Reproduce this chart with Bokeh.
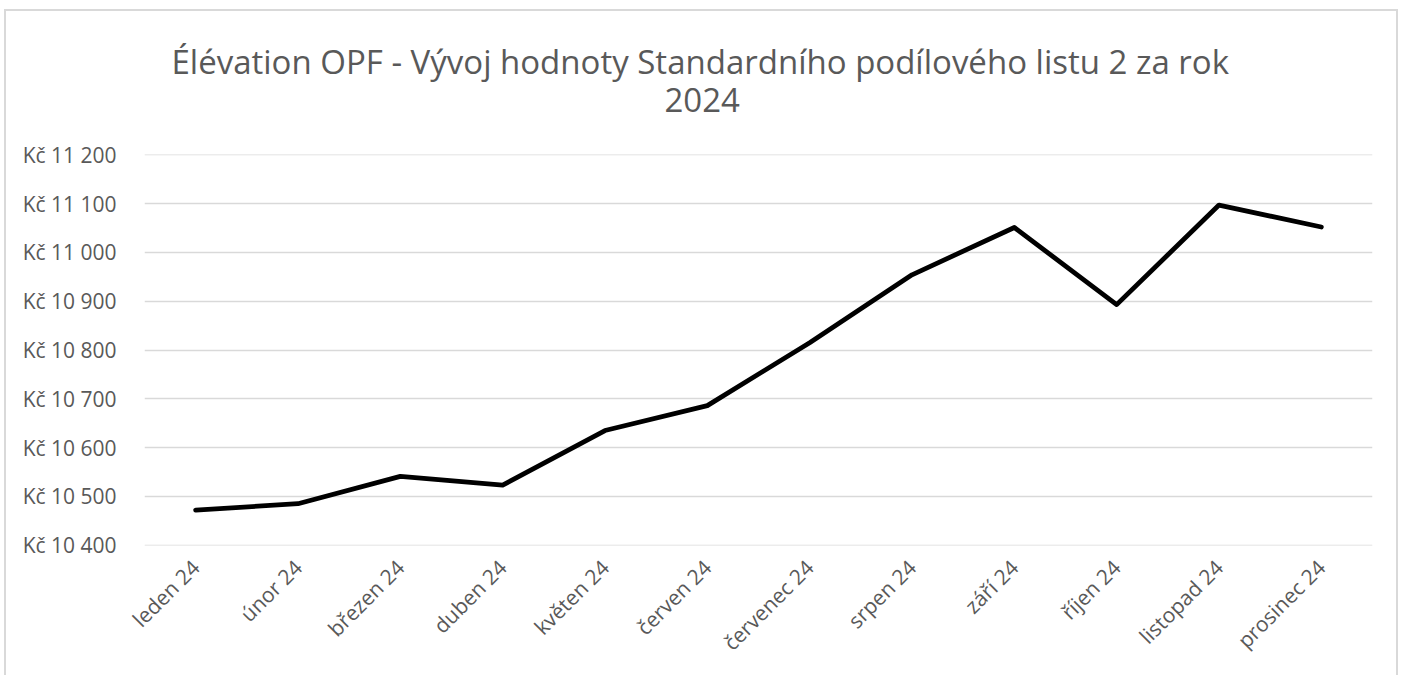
from bokeh.plotting import figure
from bokeh.models import FactorRange, Range1d, FixedTicker, Title
from bokeh.embed import file_html
from bokeh.resources import INLINE
import math

# ---- data ----
months = ["leden 24", "únor 24", "březen 24", "duben 24", "květen 24", "červen 24",
          "červenec 24", "srpen 24", "září 24", "říjen 24", "listopad 24", "prosinec 24"]
values = [10472, 10485, 10541, 10523, 10635, 10686, 10815, 10954, 11051, 10893, 11097, 11052]
y_ticks = [10400, 10500, 10600, 10700, 10800, 10900, 11000, 11100, 11200]
y_tick_labels = ["Kč 10 400", "Kč 10 500", "Kč 10 600", "Kč 10 700", "Kč 10 800",
                 "Kč 10 900", "Kč 11 000", "Kč 11 100", "Kč 11 200"]
title_line1 = "Élévation OPF - Vývoj hodnoty Standardního podílového listu 2 za rok"
title_line2 = "2024"

FONT = "Open Sans"
TXT = "#595959"
GRID = "#d9d9d9"

p = figure(x_range=FactorRange(factors=months), y_range=Range1d(10399.4, 11200.6),
           width=1394, height=667, output_backend="svg", toolbar_location=None,
           min_border_left=138, min_border_right=28, min_border_top=143, min_border_bottom=133)
p.styles = {"border": "2px solid #d9d9d9", "border-bottom": "none",
            "margin-left": "4px", "margin-top": "9px"}
p.outline_line_color = None
p.background_fill_color = "white"
p.border_fill_color = "white"

p.line(x=months, y=values, line_color="black", line_width=4.8,
       line_join="round", line_cap="round")

# y axis
p.yaxis.ticker = FixedTicker(ticks=y_ticks)
p.yaxis.major_label_overrides = {t: l for t, l in zip(y_ticks, y_tick_labels)}
p.yaxis.axis_line_color = None
p.yaxis.major_tick_line_color = None
p.yaxis.minor_tick_line_color = None
p.yaxis.major_label_standoff = 22
p.yaxis.major_label_text_font = FONT
p.yaxis.major_label_text_font_size = "21px"
p.yaxis.major_label_text_color = TXT
p.ygrid.grid_line_color = GRID
p.ygrid.grid_line_width = 1.3
p.ygrid.ticker = FixedTicker(ticks=y_ticks)

# x axis
p.xaxis.axis_line_color = None
p.xaxis.major_tick_line_color = None
p.xaxis.minor_tick_line_color = None
p.xaxis.major_label_orientation = math.pi / 4
p.xaxis.major_label_standoff = 12
p.xaxis.major_label_text_font = FONT
p.xaxis.major_label_text_font_size = "21px"
p.xaxis.major_label_text_color = TXT
p.xgrid.grid_line_color = None

# title: two lines, nearest-to-plot first
p.add_layout(Title(text=title_line2, align="left", offset=520, standoff=85,
                   text_font=FONT, text_font_size="33px", text_font_style="normal",
                   text_color=TXT), "above")
p.add_layout(Title(text=title_line1, align="left", offset=27, standoff=-80,
                   text_font=FONT, text_font_size="33px", text_font_style="normal",
                   text_color=TXT), "above")

open("out.html", "w").write(file_html(p, INLINE))
